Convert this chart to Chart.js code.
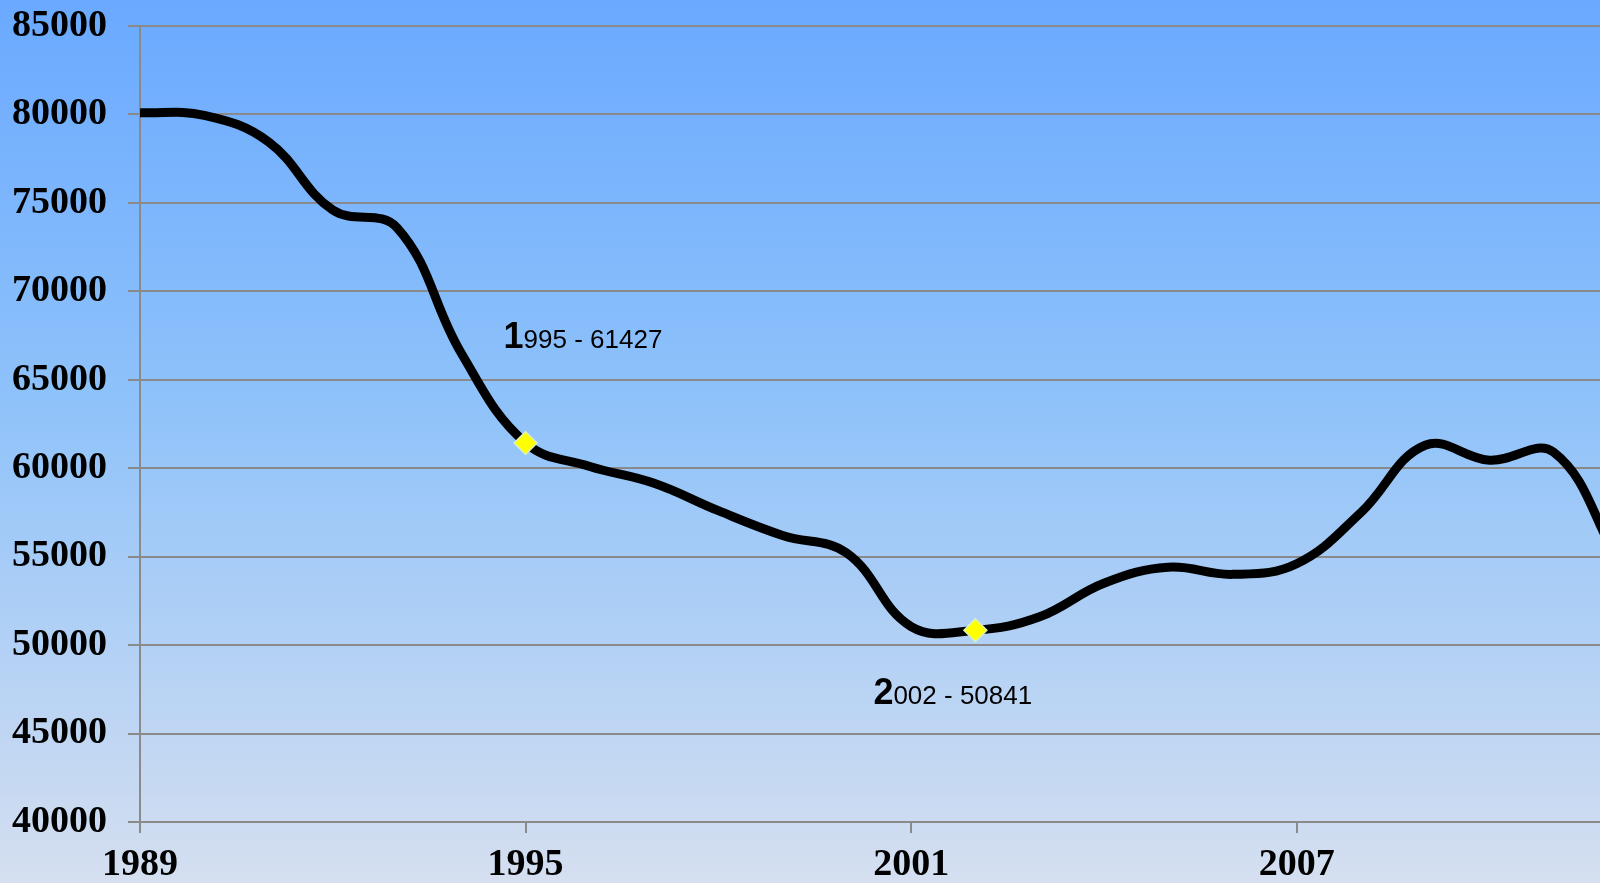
<!DOCTYPE html>
<html>
<head>
<meta charset="utf-8">
<script src="https://cdn.jsdelivr.net/npm/chart.js@4.4.0/dist/chart.umd.min.js"></script>
<style>
  html, body { margin: 0; padding: 0; overflow: hidden; background: #9cc6f6; }
  #wrap { width: 1600px; height: 883px; }
</style>
</head>
<body>
<div id="wrap"><canvas id="myChart" width="1600" height="883"></canvas></div>
<script>
// dane
var years = [1989, 1990, 1991, 1992, 1993, 1994, 1995, 1996, 1997, 1998, 1999, 2000,
             2001, 2002, 2003, 2004, 2005, 2006, 2007, 2008, 2009, 2010, 2011, 2012];
var people = [80100, 79950, 78450, 74600, 73600, 66500, 61427, 60100, 59150, 57600, 56200, 55200,
              51050, 50841, 51600, 53500, 54400, 54000, 54600, 57500, 61300, 60450, 60900, 54800];
var markedYears = [1995, 2002];
var xTickYears = [1989, 1995, 2001, 2007];
var yMin = 40000, yMax = 85000, yStep = 5000;

var linePoints = years.map(function(y, i) { return { x: y, y: people[i] }; });
var markPoints = markedYears.map(function(y) {
  return { x: y, y: people[years.indexOf(y)] };
});

// tlo - gradient
var bgPlugin = {
  id: "bg",
  beforeDraw: function(chart) {
    var c = chart.ctx;
    var g = c.createLinearGradient(0, 0, 0, chart.height);
    g.addColorStop(0, "#6aa9ff");
    g.addColorStop(0.45, "#8ec2fa");
    g.addColorStop(1, "#d5dff0");
    c.save();
    c.fillStyle = g;
    c.fillRect(0, 0, chart.width, chart.height);
    c.restore();
  }
};

// opisy punktow "1995 - 61427"
var labelPlugin = {
  id: "pointLabels",
  afterDatasetsDraw: function(chart) {
    var c = chart.ctx;
    var meta = chart.getDatasetMeta(0);
    var offsets = [[-22, -95], [-102, 74]];
    c.save();
    c.fillStyle = "#000";
    c.textBaseline = "alphabetic";
    meta.data.forEach(function(el, i) {
      var txt = markedYears[i] + " - " + markPoints[i].y;
      var x = el.x + offsets[i][0];
      var y = el.y + offsets[i][1];
      c.font = "bold 36px 'Liberation Sans', Arial, sans-serif";
      c.fillText(txt.charAt(0), x, y);
      var w = c.measureText(txt.charAt(0)).width;
      c.font = "26px 'Liberation Sans', Arial, sans-serif";
      c.fillText(txt.substring(1), x + w, y);
    });
    c.restore();
  }
};

var tickFont = { family: "'Liberation Serif', 'Times New Roman', serif", size: 38, weight: "bold", lineHeight: 1.2 };

var ctx = document.getElementById("myChart").getContext("2d");
var chart = new Chart(ctx, {
  type: "line",
  data: {
    datasets: [
      {
        label: "punkty",
        data: markPoints,
        showLine: false,
        pointStyle: "rectRot",
        pointRadius: 11.5,
        pointBackgroundColor: "#ffff00",
        pointBorderColor: "#d8f0c0",
        pointBorderWidth: 1.5,
        order: 1
      },
      {
        label: "ludnosc",
        data: linePoints,
        borderColor: "#000",
        borderWidth: 9,
        pointRadius: 0,
        tension: 0.4,
        fill: false,
        order: 2
      }
    ]
  },
  plugins: [bgPlugin, labelPlugin],
  options: {
    responsive: false,
    animation: false,
    events: [],
    layout: { autoPadding: false, padding: { left: 0, top: 26, right: 0, bottom: 0 } },
    plugins: { legend: { display: false }, tooltip: { enabled: false } },
    scales: {
      x: {
        type: "linear",
        min: 1989,
        max: 2011.72,
        afterBuildTicks: function(scale) {
          scale.ticks = xTickYears.map(function(v) { return { value: v }; });
        },
        afterFit: function(scale) {
          scale.paddingLeft = 0;
          scale.paddingRight = 0;
          scale.height = 61;
        },
        grid: { drawOnChartArea: false, drawTicks: true, tickLength: 11, color: "#8a8a8a", lineWidth: 2 },
        border: { display: false },
        ticks: {
          autoSkip: false,
          maxRotation: 0,
          padding: 9,
          color: "#000",
          font: tickFont,
          callback: function(v) { return String(v); }
        }
      },
      y: {
        min: yMin,
        max: yMax,
        afterFit: function(scale) {
          scale.width = 140;
          scale.paddingTop = 0;
          scale.paddingBottom = 0;
        },
        grid: { color: "#8a8a8a", lineWidth: 2, tickLength: 12 },
        border: { color: "#8a8a8a", width: 2 },
        ticks: {
          stepSize: yStep,
          padding: 21,
          color: "#000",
          font: tickFont,
          callback: function(v) { return String(v); }
        }
      }
    }
  }
});
</script>
</body>
</html>
